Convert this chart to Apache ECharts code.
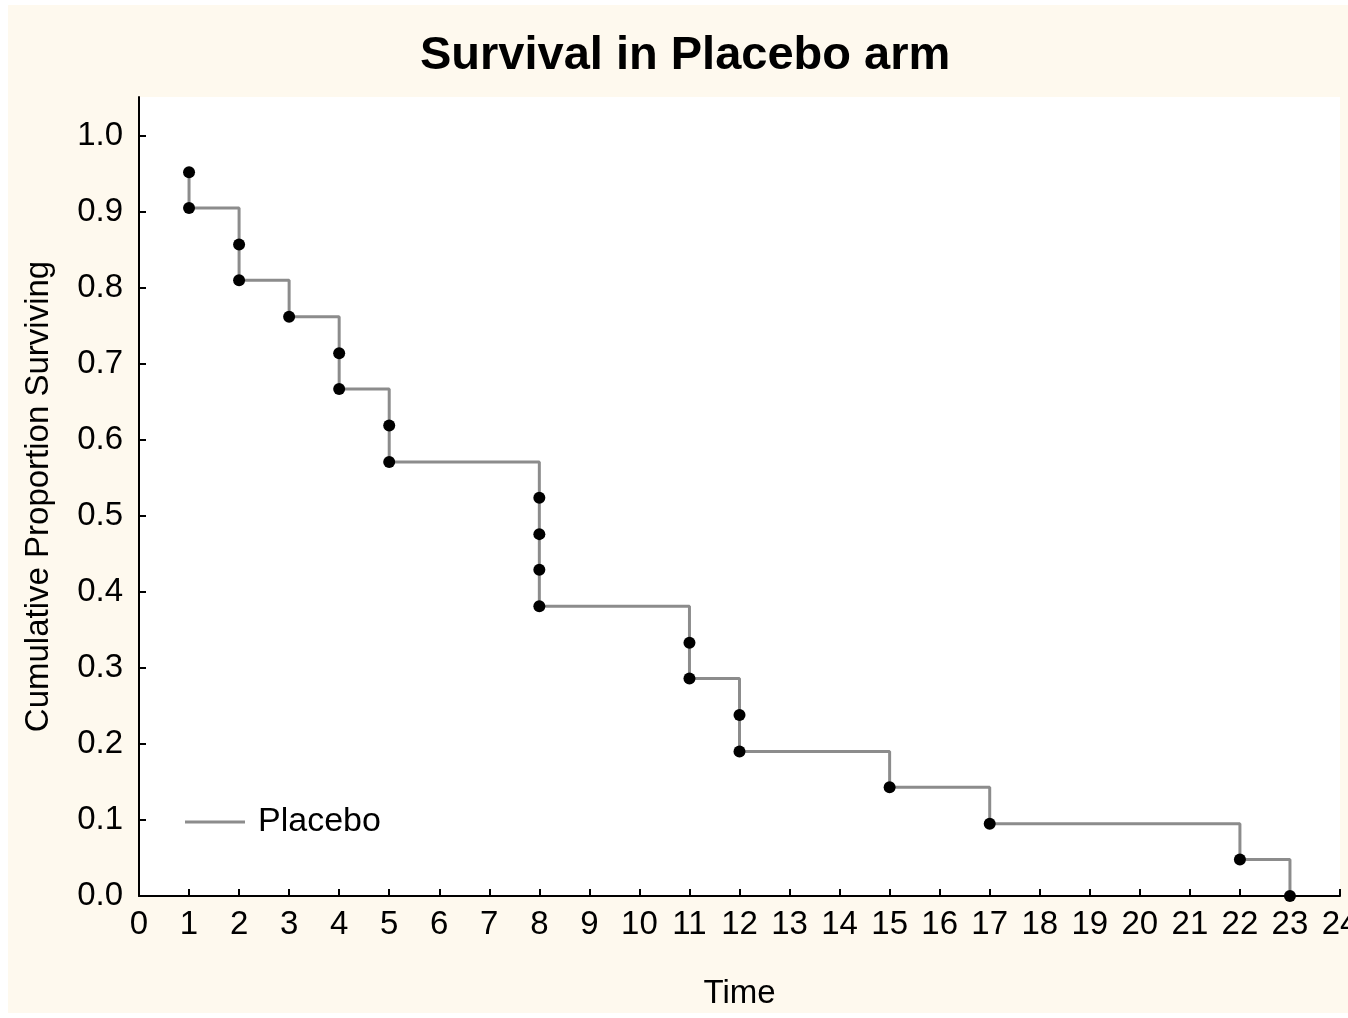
<!DOCTYPE html>
<html>
<head>
<meta charset="utf-8">
<script src="https://cdn.jsdelivr.net/npm/echarts@6/dist/echarts.min.js"></script>
<style>
html,body{margin:0;padding:0;background:#fff;}
#chart{width:1348px;height:1018px;}
</style>
</head>
<body>
<div id="chart"></div>
<script>
// Event times (Placebo arm) and Kaplan-Meier cumulative proportion surviving
var times = [1, 1, 2, 2, 3, 4, 4, 5, 5, 8, 8, 8, 8, 11, 11, 12, 12, 15, 17, 22, 23];
var survival = [0.952, 0.905, 0.857, 0.810, 0.762, 0.714, 0.667, 0.619, 0.571, 0.524, 0.476, 0.429, 0.381, 0.333, 0.286, 0.238, 0.190, 0.143, 0.095, 0.048, 0.0];
var yTicks = [0, 0.1, 0.2, 0.3, 0.4, 0.5, 0.6, 0.7, 0.8, 0.9, 1.0];
var seriesName = 'Placebo';

var pts = times.map(function (t, i) { return [t, survival[i]]; });

var chart = echarts.init(document.getElementById('chart'));
var font = '"Liberation Sans", Arial, sans-serif';
chart.setOption({
  animation: false,
  backgroundColor: '#ffffff',
  graphic: [{
    type: 'rect', z: -10, silent: true,
    shape: { x: 8, y: 5, width: 1340, height: 1008 },
    style: { fill: '#fef9ee' }
  }],
  title: {
    text: 'Survival in Placebo arm',
    left: 415, top: 28,
    textStyle: { fontFamily: font, fontSize: 47, fontWeight: 'bold', color: '#000' }
  },
  legend: {
    data: [seriesName],
    left: 180, top: 800,
    icon: 'rect', itemWidth: 60, itemHeight: 3,
    itemStyle: { color: '#8c8c8c' },
    textStyle: { fontFamily: font, fontSize: 34, color: '#000', padding: [0, 0, 0, 8] }
  },
  grid: {
    left: 139, top: 97, right: 8, bottom: 122,
    outerBoundsMode: 'none',
    containLabel: false,
    show: true, backgroundColor: '#ffffff', borderWidth: 0
  },
  xAxis: {
    type: 'value', min: 0, max: 24, interval: 1,
    name: 'Time', nameLocation: 'middle', nameGap: 81,
    nameTextStyle: { fontFamily: font, fontSize: 33, color: '#000' },
    axisLine: { show: true, onZero: false, lineStyle: { color: '#000', width: 2 } },
    axisTick: { show: true, inside: true, length: 7, lineStyle: { color: '#000', width: 2 } },
    axisLabel: { fontFamily: font, fontSize: 33, color: '#000', margin: 12, hideOverlap: false },
    splitLine: { show: false }
  },
  yAxis: {
    type: 'value', min: 0, max: 1.051,
    name: 'Cumulative Proportion Surviving', nameLocation: 'middle', nameGap: 84,
    nameTextStyle: { fontFamily: font, fontSize: 33, color: '#000' },
    axisLine: { show: true, onZero: false, lineStyle: { color: '#000', width: 2 } },
    axisTick: { show: true, inside: true, length: 7, customValues: yTicks, lineStyle: { color: '#000', width: 2 } },
    axisLabel: {
      fontFamily: font, fontSize: 33, color: '#000', margin: 16,
      customValues: yTicks,
      formatter: function (v) { return v.toFixed(1); }
    },
    splitLine: { show: false }
  },
  series: [{
    name: seriesName,
    type: 'line',
    step: 'end',
    data: pts,
    symbol: 'none',
    lineStyle: { color: '#8c8c8c', width: 3 },
    itemStyle: { color: '#8c8c8c' },
    z: 2
  }, {
    type: 'scatter',
    data: pts,
    symbol: 'circle',
    symbolSize: 12,
    itemStyle: { color: '#000', opacity: 1 },
    z: 3
  }]
});
</script>
</body>
</html>
